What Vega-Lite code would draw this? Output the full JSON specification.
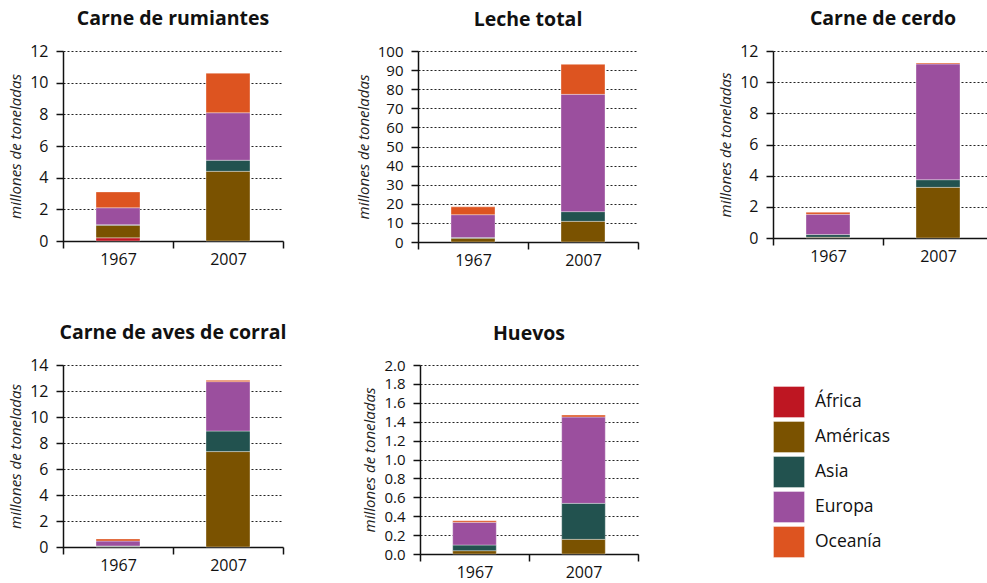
{
  "$schema": "https://vega.github.io/schema/vega-lite/v6.json",
  "background": "white",
  "padding": {"left": 8, "top": 8, "right": 0, "bottom": 6},
  "config": {
    "font": "Open Sans",
    "view": {"stroke": null},
    "title": {"fontSize": 19.5, "fontWeight": "bold", "color": "#111111", "anchor": "middle", "offset": 14},
    "axisX": {"title": null, "labelAngle": 0, "labelFontSize": 16, "labelColor": "#111111", "domainColor": "#111111", "domainWidth": 1.5, "tickColor": "#111111", "tickSize": 7, "tickWidth": 1.5, "tickBand": "extent", "labelPadding": 3, "grid": false},
    "axisY": {"labelFontSize": 16, "labelColor": "#111111", "domainColor": "#111111", "domainWidth": 1.5, "tickColor": "#111111", "tickSize": 7, "tickWidth": 1.5, "labelPadding": 8, "grid": true, "gridColor": "#222222", "gridDash": [2, 2], "gridWidth": 1, "titleFontStyle": "italic", "titleFontWeight": "normal", "titleFontSize": 15, "titleColor": "#222222", "titlePadding": 6},
    "bar": {"stroke": "#ffffff", "strokeWidth": 0.5, "strokeOpacity": 0.7}
  },
  "data": {"values": [
    {"panel": "Carne de rumiantes", "year": "1967", "region": "África", "k": 1, "value": 0.2},
    {"panel": "Carne de rumiantes", "year": "1967", "region": "Américas", "k": 2, "value": 0.8},
    {"panel": "Carne de rumiantes", "year": "1967", "region": "Asia", "k": 3, "value": 0.03},
    {"panel": "Carne de rumiantes", "year": "1967", "region": "Europa", "k": 4, "value": 1.07},
    {"panel": "Carne de rumiantes", "year": "1967", "region": "Oceanía", "k": 5, "value": 1.0},
    {"panel": "Carne de rumiantes", "year": "2007", "region": "Américas", "k": 2, "value": 4.4},
    {"panel": "Carne de rumiantes", "year": "2007", "region": "Asia", "k": 3, "value": 0.7},
    {"panel": "Carne de rumiantes", "year": "2007", "region": "Europa", "k": 4, "value": 3.0},
    {"panel": "Carne de rumiantes", "year": "2007", "region": "Oceanía", "k": 5, "value": 2.5},
    {"panel": "Leche total", "year": "1967", "region": "Américas", "k": 2, "value": 2.0},
    {"panel": "Leche total", "year": "1967", "region": "Asia", "k": 3, "value": 0.3},
    {"panel": "Leche total", "year": "1967", "region": "Europa", "k": 4, "value": 12.0},
    {"panel": "Leche total", "year": "1967", "region": "Oceanía", "k": 5, "value": 4.1},
    {"panel": "Leche total", "year": "2007", "region": "Américas", "k": 2, "value": 10.8},
    {"panel": "Leche total", "year": "2007", "region": "Asia", "k": 3, "value": 5.1},
    {"panel": "Leche total", "year": "2007", "region": "Europa", "k": 4, "value": 61.4},
    {"panel": "Leche total", "year": "2007", "region": "Oceanía", "k": 5, "value": 15.7},
    {"panel": "Carne de cerdo", "year": "1967", "region": "Américas", "k": 2, "value": 0.05},
    {"panel": "Carne de cerdo", "year": "1967", "region": "Asia", "k": 3, "value": 0.17},
    {"panel": "Carne de cerdo", "year": "1967", "region": "Europa", "k": 4, "value": 1.3},
    {"panel": "Carne de cerdo", "year": "1967", "region": "Oceanía", "k": 5, "value": 0.13},
    {"panel": "Carne de cerdo", "year": "2007", "region": "Américas", "k": 2, "value": 3.25},
    {"panel": "Carne de cerdo", "year": "2007", "region": "Asia", "k": 3, "value": 0.49},
    {"panel": "Carne de cerdo", "year": "2007", "region": "Europa", "k": 4, "value": 7.43},
    {"panel": "Carne de cerdo", "year": "2007", "region": "Oceanía", "k": 5, "value": 0.06},
    {"panel": "Carne de aves de corral", "year": "1967", "region": "Américas", "k": 2, "value": 0.03},
    {"panel": "Carne de aves de corral", "year": "1967", "region": "Asia", "k": 3, "value": 0.05},
    {"panel": "Carne de aves de corral", "year": "1967", "region": "Europa", "k": 4, "value": 0.38},
    {"panel": "Carne de aves de corral", "year": "1967", "region": "Oceanía", "k": 5, "value": 0.16},
    {"panel": "Carne de aves de corral", "year": "2007", "region": "Américas", "k": 2, "value": 7.34},
    {"panel": "Carne de aves de corral", "year": "2007", "region": "Asia", "k": 3, "value": 1.58},
    {"panel": "Carne de aves de corral", "year": "2007", "region": "Europa", "k": 4, "value": 3.8},
    {"panel": "Carne de aves de corral", "year": "2007", "region": "Oceanía", "k": 5, "value": 0.1},
    {"panel": "Huevos", "year": "1967", "region": "Américas", "k": 2, "value": 0.035},
    {"panel": "Huevos", "year": "1967", "region": "Asia", "k": 3, "value": 0.06},
    {"panel": "Huevos", "year": "1967", "region": "Europa", "k": 4, "value": 0.24},
    {"panel": "Huevos", "year": "1967", "region": "Oceanía", "k": 5, "value": 0.017},
    {"panel": "Huevos", "year": "2007", "region": "Américas", "k": 2, "value": 0.155},
    {"panel": "Huevos", "year": "2007", "region": "Asia", "k": 3, "value": 0.381},
    {"panel": "Huevos", "year": "2007", "region": "Europa", "k": 4, "value": 0.914},
    {"panel": "Huevos", "year": "2007", "region": "Oceanía", "k": 5, "value": 0.02}
  ]},
  "spacing": 54,
  "vconcat": [
    {
      "hconcat": [
        {
          "title": "Carne de rumiantes",
          "width": 220, "height": 190,
          "transform": [{"filter": "datum.panel === 'Carne de rumiantes'"}],
          "mark": {"type": "bar", "width": {"band": 0.4}},
          "encoding": {
            "x": {"field": "year", "type": "nominal", "scale": {"paddingInner": 0, "paddingOuter": 0}},
            "y": {"field": "value", "type": "quantitative", "stack": "zero", "title": "millones de toneladas", "scale": {"domain": [0, 12], "nice": false}, "axis": {"values": [0, 2, 4, 6, 8, 10, 12]}},
            "order": {"field": "k", "type": "quantitative", "sort": "ascending"},
            "color": {"field": "region", "type": "nominal", "scale": {"domain": ["África", "Américas", "Asia", "Europa", "Oceanía"], "range": ["#BE1622", "#7A5200", "#22524F", "#9B4F9E", "#DD5420"]}, "legend": {"orient": "none", "legendX": 710, "legendY": 335, "title": null, "symbolType": "square", "symbolSize": 961, "symbolStrokeWidth": 0, "symbolOpacity": 1, "labelFontSize": 17.5, "labelColor": "#111111", "labelOffset": 10, "rowPadding": 1}}
          }
        },
        {
          "title": "Leche total",
          "width": 220, "height": 191,
          "transform": [{"filter": "datum.panel === 'Leche total'"}],
          "mark": {"type": "bar", "width": {"band": 0.4}},
          "encoding": {
            "x": {"field": "year", "type": "nominal", "scale": {"paddingInner": 0, "paddingOuter": 0}},
            "y": {"field": "value", "type": "quantitative", "stack": "zero", "title": "millones de toneladas", "scale": {"domain": [0, 100], "nice": false}, "axis": {"values": [0, 10, 20, 30, 40, 50, 60, 70, 80, 90, 100], "labelFontSize": 15}},
            "order": {"field": "k", "type": "quantitative", "sort": "ascending"},
            "color": {"field": "region", "type": "nominal"}
          }
        },
        {
          "title": "Carne de cerdo",
          "width": 220, "height": 187,
          "transform": [{"filter": "datum.panel === 'Carne de cerdo'"}],
          "mark": {"type": "bar", "width": {"band": 0.4}},
          "encoding": {
            "x": {"field": "year", "type": "nominal", "scale": {"paddingInner": 0, "paddingOuter": 0}},
            "y": {"field": "value", "type": "quantitative", "stack": "zero", "title": "millones de toneladas", "scale": {"domain": [0, 12], "nice": false}, "axis": {"values": [0, 2, 4, 6, 8, 10, 12]}},
            "order": {"field": "k", "type": "quantitative", "sort": "ascending"},
            "color": {"field": "region", "type": "nominal"}
          }
        }
      ],
      "spacing": 135,
      "bounds": "flush"
    },
    {
      "hconcat": [
        {
          "title": "Carne de aves de corral",
          "width": 220, "height": 182,
          "transform": [{"filter": "datum.panel === 'Carne de aves de corral'"}],
          "mark": {"type": "bar", "width": {"band": 0.4}},
          "encoding": {
            "x": {"field": "year", "type": "nominal", "scale": {"paddingInner": 0, "paddingOuter": 0}},
            "y": {"field": "value", "type": "quantitative", "stack": "zero", "title": "millones de toneladas", "scale": {"domain": [0, 14], "nice": false}, "axis": {"values": [0, 2, 4, 6, 8, 10, 12, 14]}},
            "order": {"field": "k", "type": "quantitative", "sort": "ascending"},
            "color": {"field": "region", "type": "nominal"}
          }
        },
        {
          "title": "Huevos",
          "width": 218, "height": 189,
          "transform": [{"filter": "datum.panel === 'Huevos'"}],
          "mark": {"type": "bar", "width": {"band": 0.4}},
          "encoding": {
            "x": {"field": "year", "type": "nominal", "scale": {"paddingInner": 0, "paddingOuter": 0}},
            "y": {"field": "value", "type": "quantitative", "stack": "zero", "title": "millones de toneladas", "scale": {"domain": [0, 2], "nice": false}, "axis": {"values": [0, 0.2, 0.4, 0.6, 0.8, 1.0, 1.2, 1.4, 1.6, 1.8, 2.0], "format": ".1f", "labelFontSize": 15}},
            "order": {"field": "k", "type": "quantitative", "sort": "ascending"},
            "color": {"field": "region", "type": "nominal"}
          }
        }
      ],
      "spacing": 137,
      "bounds": "flush"
    }
  ]
}
